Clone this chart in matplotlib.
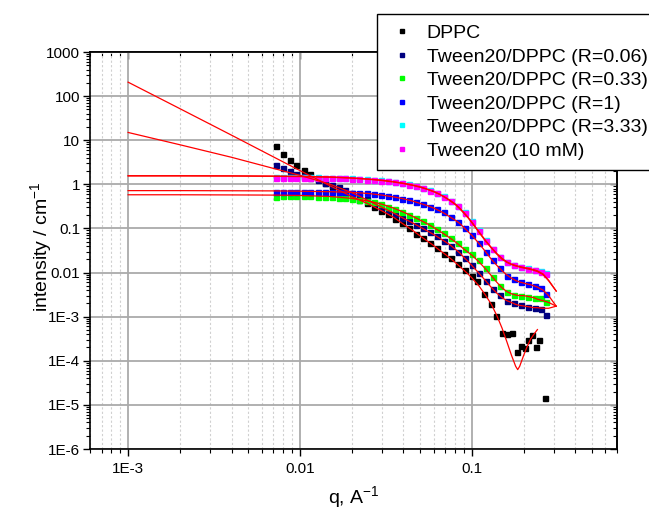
import matplotlib
matplotlib.use("Agg")
import matplotlib.pyplot as plt
from matplotlib.ticker import LogLocator, NullFormatter

plt.rcParams['font.family'] = ['Liberation Sans', 'DejaVu Sans']
plt.rcParams['mathtext.default'] = 'regular'

# measured points, q in 1/A and intensity in 1/cm
q_data = [0.0073, 0.0080, 0.0088, 0.0095, 0.0105, 0.0115, 0.0127, 0.0139, 0.0153, 0.0168,
          0.0184, 0.0202, 0.0222, 0.0244, 0.0268, 0.0295, 0.0324, 0.0356, 0.0391, 0.0429,
          0.0472, 0.0518, 0.0569, 0.0625, 0.0687, 0.0754, 0.0829, 0.0910, 0.100, 0.110,
          0.121, 0.133, 0.146, 0.160, 0.176, 0.193, 0.212, 0.233, 0.252, 0.270]

q_dppc = [0.0073, 0.0080, 0.0088, 0.0095, 0.0105, 0.0115, 0.0127, 0.0139, 0.0153, 0.0168,
          0.0184, 0.0202, 0.0222, 0.0244, 0.0268, 0.0295, 0.0324, 0.0356, 0.0391, 0.0429,
          0.0472, 0.0518, 0.0569, 0.0625, 0.0687, 0.0754, 0.0829, 0.0910, 0.100,
          0.107, 0.118, 0.130, 0.139, 0.150, 0.160, 0.172, 0.184, 0.194, 0.205, 0.213,
          0.224, 0.236, 0.246, 0.267]
i_dppc = [7.3, 5.0, 3.6, 2.8, 2.1, 1.7, 1.35, 1.1, 0.88, 0.74,
          0.62, 0.52, 0.44, 0.37, 0.31, 0.25, 0.21, 0.165, 0.13, 0.10,
          0.076, 0.062, 0.046, 0.036, 0.027, 0.021, 0.016, 0.0115, 0.0085,
          0.0063, 0.0032, 0.0019, 0.00105, 0.00042, 0.00040, 0.00042, 0.00016, 0.00022, 0.00019, 0.00029,
          0.00038, 0.00021, 0.00030, 0.000014]

i_r006 = [2.8, 2.4, 2.0, 1.75, 1.55, 1.4, 1.25, 1.1, 0.98, 0.86,
          0.74, 0.63, 0.54, 0.46, 0.38, 0.31, 0.26, 0.215, 0.175, 0.145,
          0.12, 0.10, 0.082, 0.066, 0.052, 0.041, 0.030, 0.021, 0.0145, 0.0098,
          0.0064, 0.0043, 0.0031, 0.0023, 0.0020, 0.0018, 0.0017, 0.0016, 0.0015, 0.0011]
i_r033 = [0.52, 0.53, 0.53, 0.53, 0.53, 0.53, 0.52, 0.52, 0.51, 0.50,
          0.49, 0.47, 0.45, 0.42, 0.39, 0.35, 0.31, 0.28, 0.24, 0.205,
          0.175, 0.15, 0.12, 0.097, 0.077, 0.060, 0.046, 0.035, 0.026, 0.019,
          0.0125, 0.0078, 0.0050, 0.0037, 0.0031, 0.0029, 0.0028, 0.0027, 0.0026, 0.0021]
i_r1 = [0.66, 0.68, 0.67, 0.66, 0.67, 0.66, 0.66, 0.66, 0.66, 0.66,
        0.66, 0.65, 0.64, 0.62, 0.60, 0.57, 0.54, 0.51, 0.47, 0.44,
        0.40, 0.36, 0.31, 0.27, 0.23, 0.18, 0.14, 0.10, 0.071, 0.047,
        0.030, 0.019, 0.0125, 0.0085, 0.0070, 0.0060, 0.0054, 0.0049, 0.0044, 0.0032]
i_r333 = [1.44, 1.45, 1.45, 1.44, 1.44, 1.44, 1.43, 1.42, 1.41, 1.40,
          1.38, 1.36, 1.33, 1.30, 1.27, 1.23, 1.18, 1.13, 1.07, 1.00,
          0.92, 0.83, 0.73, 0.63, 0.53, 0.43, 0.33, 0.23, 0.145, 0.090,
          0.054, 0.035, 0.023, 0.0175, 0.0152, 0.0137, 0.0127, 0.0117, 0.0108, 0.0097]
i_tween = [1.40, 1.42, 1.42, 1.42, 1.42, 1.42, 1.41, 1.40, 1.39, 1.38,
           1.36, 1.34, 1.31, 1.28, 1.25, 1.21, 1.17, 1.12, 1.06, 0.99,
           0.90, 0.82, 0.72, 0.62, 0.52, 0.42, 0.32, 0.22, 0.14, 0.087,
           0.052, 0.034, 0.022, 0.017, 0.0148, 0.0133, 0.0123, 0.0113, 0.0105, 0.0094]

# fitted curves (red)
q_fit = [0.001, 0.002, 0.004, 0.007, 0.01, 0.015, 0.02, 0.025, 0.03, 0.035,
         0.04, 0.045, 0.05, 0.055, 0.06, 0.065, 0.07, 0.075, 0.08, 0.085,
         0.09, 0.095, 0.1, 0.11, 0.12, 0.13, 0.14, 0.15, 0.16, 0.17,
         0.18, 0.19, 0.2, 0.21, 0.22, 0.23, 0.24, 0.26, 0.28, 0.31]
q_fit_dppc = [0.001, 0.002, 0.004, 0.007, 0.01, 0.015, 0.02, 0.025, 0.03, 0.035,
              0.04, 0.045, 0.05, 0.055, 0.06, 0.065, 0.07, 0.075, 0.08, 0.085,
              0.09, 0.095, 0.1, 0.11, 0.12, 0.13, 0.14, 0.15, 0.16, 0.17,
              0.18, 0.185, 0.19, 0.2, 0.21, 0.22, 0.23, 0.241]
fit_dppc = [207, 52, 13, 4.2, 2.05, 0.92, 0.53, 0.36, 0.25, 0.18,
            0.125, 0.092, 0.068, 0.052, 0.041, 0.032, 0.026, 0.021, 0.017, 0.0138,
            0.0113, 0.0093, 0.0076, 0.0050, 0.0031, 0.0019, 0.00105, 0.00055, 0.00027, 0.000135,
            0.000075, 0.000063, 0.000075, 0.00013, 0.00021, 0.00031, 0.00040, 0.00051]
fit_r006 = [15, 7.9, 4.1, 2.3, 1.6, 1.0, 0.65, 0.43, 0.30, 0.225,
            0.17, 0.135, 0.108, 0.088, 0.073, 0.060, 0.050, 0.042, 0.034, 0.028,
            0.022, 0.018, 0.0145, 0.0097, 0.0066, 0.0046, 0.0034, 0.0027, 0.0023, 0.0021,
            0.0019, 0.0018, 0.00175, 0.0017, 0.00165, 0.0016, 0.0016, 0.00155, 0.00155, 0.00173]
fit_r033 = [0.58, 0.58, 0.575, 0.57, 0.56, 0.53, 0.48, 0.42, 0.355, 0.29,
            0.235, 0.19, 0.155, 0.128, 0.105, 0.087, 0.072, 0.060, 0.050, 0.041,
            0.034, 0.029, 0.025, 0.0175, 0.0122, 0.0085, 0.0060, 0.0045, 0.0037, 0.0033,
            0.0031, 0.0030, 0.0030, 0.0029, 0.0028, 0.0027, 0.0025, 0.0023, 0.0021, 0.00173]
fit_r1 = [0.72, 0.72, 0.715, 0.71, 0.70, 0.68, 0.66, 0.62, 0.57, 0.52,
          0.47, 0.42, 0.37, 0.33, 0.29, 0.25, 0.215, 0.18, 0.155, 0.13,
          0.105, 0.085, 0.070, 0.046, 0.030, 0.020, 0.0145, 0.011, 0.0088, 0.0075,
          0.0066, 0.0061, 0.0058, 0.0055, 0.0053, 0.0050, 0.0047, 0.0040, 0.0030, 0.00173]
fit_r333 = [1.57, 1.57, 1.56, 1.54, 1.52, 1.47, 1.40, 1.32, 1.24, 1.15,
            1.06, 0.97, 0.88, 0.78, 0.69, 0.60, 0.51, 0.43, 0.36, 0.29,
            0.23, 0.18, 0.14, 0.085, 0.054, 0.037, 0.027, 0.021, 0.0175, 0.0156,
            0.0145, 0.0137, 0.0131, 0.0126, 0.0121, 0.0116, 0.0110, 0.0093, 0.0067, 0.0038]
fit_tween = [1.55, 1.55, 1.54, 1.52, 1.50, 1.45, 1.38, 1.30, 1.22, 1.13,
             1.04, 0.95, 0.86, 0.77, 0.68, 0.59, 0.50, 0.42, 0.35, 0.28,
             0.22, 0.175, 0.135, 0.082, 0.052, 0.036, 0.026, 0.020, 0.0170, 0.0152,
             0.0141, 0.0133, 0.0127, 0.0122, 0.0117, 0.0112, 0.0106, 0.0090, 0.0065, 0.0038]

labels = ["DPPC", "Tween20/DPPC (R=0.06)", "Tween20/DPPC (R=0.33)",
          "Tween20/DPPC (R=1)", "Tween20/DPPC (R=3.33)", "Tween20 (10 mM)"]
colors = ["#000000", "#000080", "#00ff00", "#0000ff", "#00ffff", "#ff00ff"]

x_ticks = [1e-3, 1e-2, 1e-1]
x_tick_labels = ["1E-3", "0.01", "0.1"]
y_ticks = [1e-6, 1e-5, 1e-4, 1e-3, 1e-2, 1e-1, 1, 10, 100, 1000]
y_tick_labels = ["1E-6", "1E-5", "1E-4", "1E-3", "0.01", "0.1", "1", "10", "100", "1000"]

fig = plt.figure(figsize=(6.49, 5.11), dpi=100)
ax = fig.add_axes([90 / 649, 1 - 449 / 511, 527 / 649, 397 / 511])
ax.set_xscale("log")
ax.set_yscale("log")
ax.set_xlim(6e-4, 0.7)
ax.set_ylim(1e-6, 1000)

series = [(q_dppc, i_dppc), (q_data, i_r006), (q_data, i_r033),
          (q_data, i_r1), (q_data, i_r333), (q_data, i_tween)]
handles = []
for (qq, ii), lab, col in zip(series, labels, colors):
    h, = ax.plot(qq, ii, ls="none", marker="s", ms=3.6, mfc=col, mec=col, label=lab, zorder=3)
    handles.append(h)

fits = [(q_fit_dppc, fit_dppc), (q_fit, fit_r006), (q_fit, fit_r033),
        (q_fit, fit_r1), (q_fit, fit_r333), (q_fit, fit_tween)]
for qq, ff in fits:
    ax.plot(qq, ff, color="#ff0000", lw=0.9, zorder=4)

ax.set_xticks(x_ticks, labels=x_tick_labels)
ax.set_yticks(y_ticks, labels=y_tick_labels)
ax.xaxis.set_minor_locator(LogLocator(base=10, subs=range(2, 10), numticks=20))
ax.yaxis.set_minor_locator(LogLocator(base=10, subs=range(2, 10), numticks=30))
ax.xaxis.set_minor_formatter(NullFormatter())
ax.yaxis.set_minor_formatter(NullFormatter())
ax.tick_params(which="major", direction="out", length=5, width=1, labelsize=11)
ax.tick_params(axis="x", which="major", pad=4)
ax.tick_params(axis="y", which="major", pad=2)
ax.tick_params(which="minor", direction="out", length=3, width=0.8)

ax.grid(which="major", color="#aaaaaa", lw=1.3)
ax.grid(which="minor", axis="x", color="#d0d0d0", lw=0.8, ls=(0, (2, 2)))
ax.set_axisbelow(True)
for s in ax.spines.values():
    s.set_linewidth(1.2)

# mirrored ticks on top and right, pointing inward
secx = ax.secondary_xaxis("top")
secx.set_xticks(x_ticks)
secx.xaxis.set_minor_formatter(NullFormatter())
secx.tick_params(which="both", direction="in", labeltop=False, width=1)
secx.tick_params(which="major", length=5)
secx.tick_params(which="minor", length=3, width=0.8)
secx.spines["top"].set_linewidth(1.2)
secy = ax.secondary_yaxis("right")
secy.set_yticks(y_ticks)
secy.yaxis.set_minor_formatter(NullFormatter())
secy.tick_params(which="both", direction="in", labelright=False, width=1)
secy.tick_params(which="major", length=5)
secy.tick_params(which="minor", length=3, width=0.8)
secy.spines["right"].set_linewidth(1.2)

ax.set_ylabel("intensity / cm$^{-1}$", fontsize=14)
ax.set_xlabel("q, A$^{-1}$", fontsize=14)
ax.yaxis.set_label_coords(-0.069, 0.51)
ax.xaxis.set_label_coords(0.5, -0.088)

leg = fig.legend(handles=handles, loc="upper left",
                 bbox_to_anchor=(377 / 649, 1 - 14 / 511), bbox_transform=fig.transFigure,
                 fontsize=14, frameon=True, fancybox=False, framealpha=1,
                 edgecolor="black", numpoints=1, markerscale=0.9,
                 handlelength=1.5, handletextpad=0.5, labelspacing=0.3,
                 borderpad=0.55, borderaxespad=0)
leg.get_frame().set_linewidth(1.0)

fig.savefig("out.png", dpi=100)
